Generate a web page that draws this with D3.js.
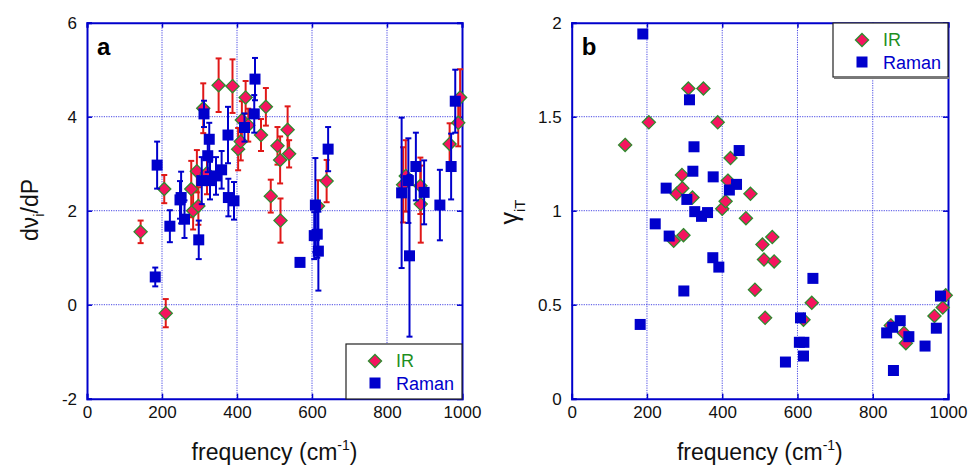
<!DOCTYPE html>
<html>
<head>
<meta charset="utf-8">
<script src="https://cdn.jsdelivr.net/npm/d3@7"></script>
<style>
  body { margin: 0; background: #fff; }
  text { font-family: "Liberation Sans", Arial, sans-serif; }
</style>
</head>
<body>
<svg width="970" height="465"></svg>
<script>
// panel a : pressure derivative of mode frequency
var irFreqA = [143, 206, 210, 278, 283, 293, 297, 310, 320, 351, 388, 403, 410, 413, 423, 430, 464, 477, 490, 508, 515, 516, 535, 539, 616, 639, 843, 850, 889, 890, 967, 990, 995];
var irValA  = [1.55, 2.46, -0.18, 2.46, 2.0, 2.84, 2.1, 4.18, 2.80, 4.67, 4.65, 3.31, 3.47, 3.93, 4.41, 3.82, 3.61, 4.21, 2.31, 3.38, 3.08, 1.79, 3.72, 3.21, 2.1, 2.63, 2.55, 2.74, 2.53, 2.14, 3.42, 3.87, 4.41];
var irErrA  = [0.24, 0.3, 0.3, 0.6, 0.4, 0.45, 0.4, 0.53, 0.45, 0.57, 0.57, 0.45, 0.4, 0.4, 0.35, 0.35, 0.34, 0.4, 0.35, 0.4, 0.5, 0.47, 0.5, 0.29, 0.55, 0.45, 0.8, 0.76, 0.6, 0.82, 0.44, 0.5, 0.6];

var ramanFreqA = [182, 187, 221, 248, 251, 260, 298, 306, 312, 322, 326, 328, 344, 359, 376, 377, 392, 420, 446, 448, 568, 606, 609, 614, 617, 643, 839, 857, 860, 877, 899, 941, 971, 982];
var ramanValA  = [0.59, 2.97, 1.67, 2.23, 2.28, 1.82, 1.38, 2.64, 4.06, 3.17, 3.52, 2.64, 2.74, 2.87, 3.61, 2.28, 2.21, 3.77, 4.06, 4.80, 0.90, 1.47, 2.12, 1.50, 1.14, 3.31, 2.38, 2.64, 1.04, 2.94, 2.39, 2.12, 2.94, 4.33];
var ramanErrA  = [0.2, 0.5, 0.34, 0.4, 0.55, 0.4, 0.41, 0.5, 0.28, 0.35, 0.35, 0.4, 0.4, 0.4, 0.6, 0.4, 0.4, 0.3, 0.4, 0.45, 0, 0.5, 1.0, 0.5, 0.84, 0.47, 1.6, 0.9, 1.72, 0.72, 0.68, 0.75, 0.7, 0.67];

// panel b : mode Gruneisen parameter
var irFreqB = [142, 205, 271, 279, 293, 294, 297, 310, 321, 350, 388, 400, 409, 415, 422, 463, 475, 487, 507, 511, 514, 533, 538, 616, 638, 848, 883, 888, 964, 986, 994];
var irValB  = [1.35, 1.47, 0.84, 1.09, 1.19, 1.12, 0.87, 1.65, 1.07, 1.65, 1.47, 1.01, 1.05, 1.16, 1.28, 0.96, 1.09, 0.58, 0.82, 0.74, 0.43, 0.86, 0.73, 0.42, 0.51, 0.39, 0.35, 0.295, 0.44, 0.485, 0.55];

var ramanFreqB = [182, 189, 222, 251, 259, 298, 306, 313, 322, 325, 327, 345, 361, 375, 376, 391, 419, 438, 445, 568, 605, 608, 616, 617, 641, 837, 853, 855, 873, 896, 939, 969, 980];
var ramanValB  = [0.395, 1.94, 0.93, 1.12, 0.865, 0.573, 1.06, 1.59, 1.21, 1.34, 0.995, 0.97, 0.99, 0.75, 1.18, 0.70, 1.11, 1.14, 1.32, 0.195, 0.30, 0.43, 0.227, 0.30, 0.64, 0.35, 0.38, 0.15, 0.415, 0.33, 0.28, 0.375, 0.546];

var xTicks = [0, 200, 400, 600, 800, 1000];
var yTicksA = [-2, 0, 2, 4, 6];
var yTicksB = [0, 0.5, 1, 1.5, 2];

var blue = '#0000cc';
var pink = '#f5145f';
var green = '#2e8b2e';
var red = '#e01818';

var svg = d3.select('svg');
var top0 = 22.7, bottom0 = 398.7;

function zip(f, v, e) {
  return f.map(function(d, i) { return {f: d, v: v[i], e: e ? e[i] : 0}; });
}

var diamond = d3.symbol().type(d3.symbolDiamond2 || d3.symbolDiamond).size(110);

function drawPanel(opt) {
  var x = d3.scaleLinear().domain([0, 1000]).range([opt.left, opt.right]);
  var y = d3.scaleLinear().domain(opt.yDomain).range([bottom0, top0]);
  var g = svg.append('g');

  // dotted grid
  g.selectAll('.gx').data(xTicks.slice(1, -1)).enter().append('line')
    .attr('x1', function(d) { return x(d); }).attr('x2', function(d) { return x(d); })
    .attr('y1', top0).attr('y2', bottom0)
    .attr('stroke', '#2a2ae0').attr('stroke-width', 1).attr('stroke-dasharray', '1.2,1.2').attr('opacity', 0.85);
  g.selectAll('.gy').data(opt.yTicks.slice(1, -1)).enter().append('line')
    .attr('y1', function(d) { return y(d); }).attr('y2', function(d) { return y(d); })
    .attr('x1', opt.left).attr('x2', opt.right)
    .attr('stroke', '#2a2ae0').attr('stroke-width', 1).attr('stroke-dasharray', '1.2,1.2').attr('opacity', 0.85);

  // axes, ticks pointing inward
  var ax = [
    [d3.axisBottom(x).tickValues(xTicks).tickFormat(d3.format('d')).tickSize(-5).tickPadding(7), 'translate(0,' + bottom0 + ')'],
    [d3.axisTop(x).tickValues(xTicks).tickFormat('').tickSize(-5), 'translate(0,' + top0 + ')'],
    [d3.axisLeft(y).tickValues(opt.yTicks).tickFormat(function(d) { return String(d); }).tickSize(-5).tickPadding(10), 'translate(' + opt.left + ',0)'],
    [d3.axisRight(y).tickValues(opt.yTicks).tickFormat('').tickSize(-5), 'translate(' + opt.right + ',0)']
  ];
  ax.forEach(function(a) {
    var s = g.append('g').attr('transform', a[1]).call(a[0]);
    s.select('.domain').attr('stroke', blue).attr('stroke-width', 2);
    s.selectAll('.tick line').attr('stroke', blue).attr('stroke-width', 1.5);
    s.selectAll('.tick text').attr('fill', '#111').attr('font-size', 17)
      .attr('font-family', '"Liberation Sans", Arial, sans-serif');
  });

  var ir = zip(opt.irF, opt.irV, opt.irE);
  var ra = zip(opt.raF, opt.raV, opt.raE);

  function bars(data, color) {
    var b = g.append('g').attr('stroke', color).attr('stroke-width', 2);
    data.filter(function(d) { return d.e > 0; }).forEach(function(d) {
      var cx = x(d.f);
      b.append('line').attr('x1', cx).attr('x2', cx).attr('y1', y(d.v - d.e)).attr('y2', y(d.v + d.e));
      b.append('line').attr('x1', cx - 3).attr('x2', cx + 3).attr('y1', y(d.v - d.e)).attr('y2', y(d.v - d.e));
      b.append('line').attr('x1', cx - 3).attr('x2', cx + 3).attr('y1', y(d.v + d.e)).attr('y2', y(d.v + d.e));
    });
  }

  if (opt.irE) bars(ir, red);
  g.append('g').selectAll('path').data(ir).enter().append('path')
    .attr('d', diamond)
    .attr('transform', function(d) { return 'translate(' + x(d.f) + ',' + y(d.v) + ')'; })
    .attr('fill', pink).attr('stroke', green).attr('stroke-width', 1.3);
  if (opt.raE) bars(ra, blue);
  g.append('g').selectAll('rect').data(ra).enter().append('rect')
    .attr('x', function(d) { return x(d.f) - 5.5; })
    .attr('y', function(d) { return y(d.v) - 5.5; })
    .attr('width', 11).attr('height', 11)
    .attr('fill', blue);

  // panel letter
  g.append('text').attr('x', opt.left + 10).attr('y', 55)
    .attr('font-size', 24).attr('font-weight', 'bold').text(opt.letter);

  // x label
  var xl = g.append('text').attr('x', (opt.left + opt.right) / 2).attr('y', 460)
    .attr('text-anchor', 'middle').attr('font-size', 23).attr('fill', '#111');
  xl.append('tspan').text('frequency (cm');
  xl.append('tspan').attr('font-size', 14).attr('dy', -10).text('-1');
  xl.append('tspan').attr('dy', 10).text(')');

  // legend
  var L = opt.legend;
  g.append('rect').attr('x', L.x).attr('y', L.y).attr('width', L.w).attr('height', L.h)
    .attr('fill', '#fff').attr('stroke', '#222').attr('stroke-width', 1.2);
  if (L.shadow) {
    g.append('line').attr('x1', L.x + 1).attr('x2', L.x + L.w + 1).attr('y1', L.y + L.h + 1).attr('y2', L.y + L.h + 1)
      .attr('stroke', '#777').attr('stroke-width', 2);
  }
  g.append('path').attr('d', diamond)
    .attr('transform', 'translate(' + (L.x + 29) + ',' + (L.y + 17) + ')')
    .attr('fill', pink).attr('stroke', green).attr('stroke-width', 1.3);
  g.append('text').attr('x', L.x + 50).attr('y', L.y + 23).attr('font-size', 18).attr('fill', '#1f8f1f').text('IR');
  g.append('rect').attr('x', L.x + 23.5).attr('y', L.y + 33.5).attr('width', 11).attr('height', 11).attr('fill', blue);
  g.append('text').attr('x', L.x + 50).attr('y', L.y + 45.5).attr('font-size', 18).attr('fill', blue).text('Raman');

  return g;
}

drawPanel({
  left: 87, right: 462, yDomain: [-2, 6], yTicks: yTicksA, letter: 'a',
  irF: irFreqA, irV: irValA, irE: irErrA,
  raF: ramanFreqA, raV: ramanValA, raE: ramanErrA,
  legend: {x: 346, y: 344, w: 116, h: 55, shadow: false}
});

drawPanel({
  left: 571.7, right: 948, yDomain: [0, 2], yTicks: yTicksB, letter: 'b',
  irF: irFreqB, irV: irValB, irE: null,
  raF: ramanFreqB, raV: ramanValB, raE: null,
  legend: {x: 833, y: 23, w: 115, h: 54, shadow: true}
});

// y labels
var yl = svg.append('text').attr('transform', 'translate(38,210) rotate(-90)')
  .attr('text-anchor', 'middle').attr('font-size', 23).attr('fill', '#111');
yl.append('tspan').text('dν');
yl.append('tspan').attr('font-size', 15).attr('dy', 6).text('i');
yl.append('tspan').attr('dy', -6).text('/dP');

var yl2 = svg.append('text').attr('transform', 'translate(518,212) rotate(-90)')
  .attr('text-anchor', 'middle').attr('font-size', 25).attr('fill', '#111');
yl2.append('tspan').text('γ');
yl2.append('tspan').attr('font-size', 15).attr('dy', 7).text('iT');
</script>
</body>
</html>
